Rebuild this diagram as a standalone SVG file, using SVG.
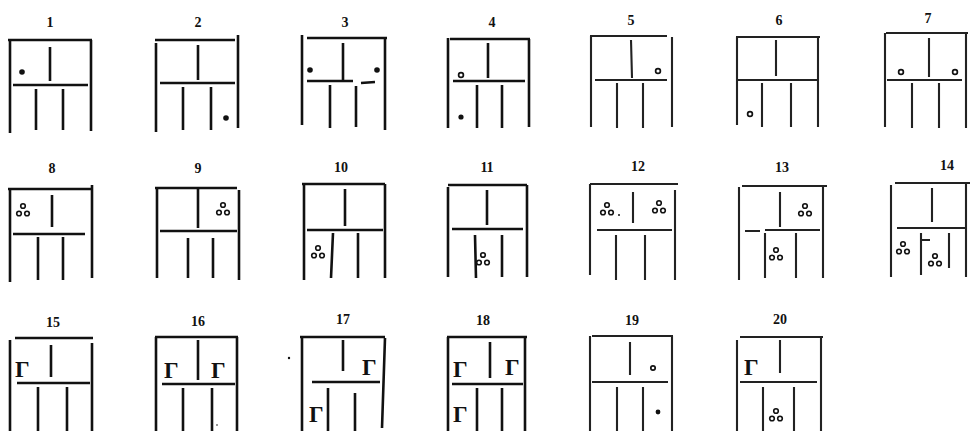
<svg xmlns="http://www.w3.org/2000/svg" width="970" height="431" viewBox="0 0 970 431">
<style>
.s{fill:none;stroke:#111;stroke-width:2.6;stroke-linecap:butt}
.l{fill:none;stroke:#222;stroke-width:2.1;stroke-linecap:butt}
.n{font-family:"Liberation Serif",serif;font-weight:bold;font-size:14px;fill:#111;text-anchor:middle}
.g{font-family:"Liberation Serif",serif;font-weight:bold;font-size:23px;fill:#111}
.d{fill:#111}
.o{fill:none;stroke:#111;stroke-width:1.7}
</style>
<defs>
<g id="tri" fill="none" stroke="#111" stroke-width="1.6">
<circle cx="0" cy="-4" r="2.3"/><circle cx="-4" cy="3.5" r="2.3"/><circle cx="4" cy="3.5" r="2.3"/>
</g>
</defs>
<rect width="970" height="431" fill="#fff"/>

<g id="fig1">
<text class="n" x="50" y="27">1</text>
<path class="s" d="M8,40H92M10,40V133M91,40V131M13,85H88M50,47V81M36,89V130M63,89V130"/>
<circle class="d" cx="22" cy="72" r="2.8"/>
</g>
<g id="fig2">
<text class="n" x="198" y="27">2</text>
<path class="s" d="M155,40H235M156,43V132M238,35V128M160,83H235M198,45V80M183,87V130M211,87V130"/>
<circle class="d" cx="226" cy="118" r="2.8"/>
</g>
<g id="fig3">
<text class="n" x="345" y="27">3</text>
<path class="s" d="M307,38H387M302,35V125M385,38V130M307,81H353M361,83L375,82M343,43V80M330,85V128M356,86V127"/>
<circle class="d" cx="310" cy="70" r="2.8"/><circle class="d" cx="377" cy="70" r="2.8"/>
</g>
<g id="fig4">
<text class="n" x="492" y="27">4</text>
<path class="s" d="M450,39H530M448,38V128M529,39V127M453,81H525M488,43V78M477,85V128M502,85V128"/>
<circle class="o" cx="461" cy="75" r="2.4"/><circle class="d" cx="461" cy="117" r="2.6"/>
</g>
<g id="fig5">
<text class="n" x="631" y="25">5</text>
<path class="l" d="M590,36H667M591,36V127M672,37V127M595,80H667M631,40L632,78M617,83V128M643,83V128"/>
<circle class="o" cx="658" cy="71" r="2.4"/>
</g>
<g id="fig6">
<text class="n" x="779" y="25">6</text>
<path class="l" d="M736,37H820M737,37V125M818,37V127M738,80H817M776,40V76M762,83V127M791,83V127"/>
<circle class="o" cx="750" cy="114" r="2.4"/>
</g>
<g id="fig7">
<text class="n" x="928" y="23">7</text>
<path class="l" d="M886,33H968M885,33V127M966,33V128M887,80H962M929,38V77M912,83V128M939,83V128"/>
<circle class="o" cx="901" cy="72" r="2.4"/><circle class="o" cx="955" cy="72" r="2.4"/>
</g>

<g id="fig8">
<text class="n" x="52" y="173">8</text>
<path class="s" d="M8,189H92M10,189V282M92,185V278M13,234H85M52,195V227M38,237V280M63,237V280"/>
<use href="#tri" x="23" y="210"/>
</g>
<g id="fig9">
<text class="n" x="198" y="173">9</text>
<path class="s" d="M155,188H237M157,188V278M239,190V280M160,231H237M198,189V228M188,238V278M213,238V278"/>
<use href="#tri" x="223" y="209"/>
</g>
<g id="fig10">
<text class="n" x="341" y="172">10</text>
<path class="s" d="M302,184H385M304,184V280M385,184V278M307,230H383M345,189V226M333,233L331,278M358,233V278"/>
<use href="#tri" x="318" y="252"/>
</g>
<g id="fig11">
<text class="n" x="487" y="172">11</text>
<path class="s" d="M448,185H527M448,187V277M527,185V277M452,229H523M487,190V225M475,235L476,278M502,235V277"/>
<use href="#tri" x="483" y="259"/>
</g>
<g id="fig12">
<text class="n" x="638" y="171">12</text>
<path class="l" d="M590,184H678M590,184V275M675,190V280M597,230H672M633,192V223M616,235V280M645,235V280"/>
<use href="#tri" x="607" y="209"/><circle class="d" cx="619" cy="215" r="1"/>
<use href="#tri" x="659" y="207"/>
</g>
<g id="fig13">
<text class="n" x="782" y="172">13</text>
<path class="l" d="M742,186H827M739,187V280M823,186V278M745,231H760M765,230H820M780,192V227M765,233V278M796,233V278"/>
<use href="#tri" x="805" y="210"/><use href="#tri" x="776" y="254"/>
</g>
<g id="fig14">
<text class="n" x="947" y="170">14</text>
<path class="l" d="M895,183H970M891,185V277M966,183V277M897,228H966M932,188V222M921,233V275M921,240H930M949,233V268"/>
<use href="#tri" x="903" y="248"/><use href="#tri" x="935" y="260"/>
</g>

<g id="fig15">
<text class="n" x="53" y="327">15</text>
<path class="s" d="M15,338H93M10,340V431M92,343V431M17,383H90M51,345V377M38,387V431M67,387V431"/>
<text class="g" x="15" y="377">Γ</text>
</g>
<g id="fig16">
<text class="n" x="198" y="326">16</text>
<path class="s" d="M155,337H238M156,337V431M237,337V431M162,384H235M198,340V380M183,388V431M212,388V431"/>
<text class="g" x="164" y="378">Γ</text><text class="g" x="211" y="378">Γ</text>
<circle class="d" cx="217" cy="425" r="0.8"/>
</g>
<g id="fig17">
<text class="n" x="343" y="324">17</text>
<path class="s" d="M300,337H385M302,337V431M385,338L382,428M312,382H380M343,340V371M328,388V431M355,393V431"/>
<text class="g" x="362" y="375">Γ</text><text class="g" x="309" y="422">Γ</text>
<circle class="d" cx="289" cy="358" r="1.2"/>
</g>
<g id="fig18">
<text class="n" x="483" y="325">18</text>
<path class="s" d="M447,337H527M448,337V431M525,337V431M452,384H523M490,342V378M477,388V431M502,388V431"/>
<text class="g" x="453" y="377">Γ</text><text class="g" x="505" y="375">Γ</text><text class="g" x="453" y="422">Γ</text>
</g>
<g id="fig19">
<text class="n" x="632" y="325">19</text>
<path class="l" d="M592,336H673M590,336V431M672,336V431M592,382H668M630,342V375M617,387V431M643,387V431"/>
<circle class="o" cx="653" cy="368" r="2.2"/><circle class="d" cx="658" cy="412" r="2.4"/>
</g>
<g id="fig20">
<text class="n" x="780" y="324">20</text>
<path class="l" d="M740,337H823M737,340V431M821,337V431M740,382H817M780,340V373M763,387V431M794,387V431"/>
<text class="g" x="744" y="375">Γ</text>
<use href="#tri" x="776" y="415"/>
</g>
</svg>
